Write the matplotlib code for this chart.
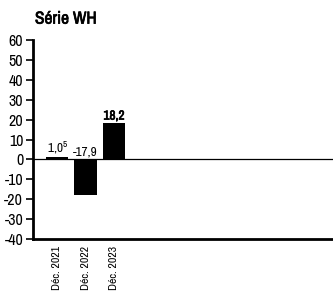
import matplotlib.pyplot as plt
import matplotlib.patheffects as pe
from matplotlib import font_manager

categories = ["Déc. 2021", "Déc. 2022", "Déc. 2023"]
values = [1.05, -17.9, 18.2]
value_labels = ["1,0$^5$", "-17,9", "18,2"]
yticks = [-40, -30, -20, -10, 0, 10, 20, 30, 40, 50, 60]

names = sorted({f.name for f in font_manager.fontManager.ttflist})
narrow = [n for n in names if "Narrow" in n or "Condensed" in n]
fam = narrow[0] if narrow else "DejaVu Sans"
plt.rcParams["font.family"] = [fam, "DejaVu Sans"]
plt.rcParams["font.stretch"] = "condensed"
plt.rcParams["mathtext.fontset"] = "custom"
plt.rcParams["mathtext.rm"] = fam

# fake bold via a thin stroke (narrow font may only come in regular)
bold = [pe.withStroke(linewidth=0.5, foreground="black")]

fig = plt.figure(figsize=(3.33, 2.94), dpi=100)
ax = fig.add_axes([0.099, 0.187, 0.901, 0.677])

x = list(range(len(values)))
ax.bar(x, values, width=0.78, color="black")
ax.axhline(0, color="black", lw=0.9)

for xi, v, lab in zip(x, values, value_labels):
    y = max(v, 0) + 0.8
    t = ax.text(xi, y, lab, ha="center", va="bottom", fontsize=9.5)
    if lab == "18,2":
        t.set_path_effects(bold)

ax.set_xlim(-0.85, 9.7)
ax.set_ylim(-40, 60)
ax.set_yticks(yticks)
ax.set_yticklabels([str(t) for t in yticks], fontsize=11.5)
ax.set_xticks(x)
ax.set_xticklabels(categories, rotation=90, fontsize=8.5)
ax.tick_params(axis="x", length=0, pad=5)
ax.tick_params(axis="y", length=5, width=1.2, pad=2)

for s in ["top", "right"]:
    ax.spines[s].set_visible(False)
ax.spines["left"].set_linewidth(2)
ax.spines["bottom"].set_linewidth(2)

fig.text(0.105, 0.935, "Série WH", fontsize=12.5, ha="left", va="center",
         path_effects=bold)

fig.savefig("out.png", dpi=100)
